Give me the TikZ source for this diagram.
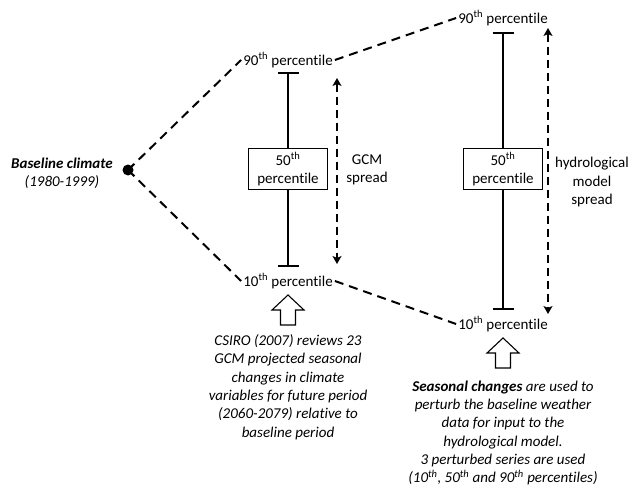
\documentclass[tikz,border=0pt]{standalone}
\usepackage{fontspec}
\setmainfont{Carlito}[Ligatures=NoCommon]
\usetikzlibrary{arrows.meta}

\begin{document}
\begin{tikzpicture}[
        x=1pt, y=-1pt,
        every node/.style={font=\fontsize{15}{18}\selectfont, align=center, inner sep=2pt},
        link/.style={line width=2pt, dash pattern=on 9pt off 6pt},
        spreadline/.style={line width=2pt, dash pattern=on 8pt off 5pt, {Stealth[length=8pt,width=9pt,inset=2pt]}-{Stealth[length=8pt,width=9pt,inset=2pt]}},
        whisker/.style={line width=2pt},
        midbox/.style={draw, line width=1pt, minimum width=79pt, minimum height=40pt, inner sep=1pt},
        hollow/.style={draw, line width=1.1pt, line join=miter},
        notetext/.style={font=\itshape\fontsize{15}{18.3}\selectfont}
      ]
      \useasboundingbox (0,0) rectangle (636,489);

      % baseline
      \fill (128,170) circle (5.5pt) coordinate (base);
      \node at (62,173) {\textbf{\textit{Baseline climate}}\\\textit{(1980-1999)}};

      % GCM projections
      \node (p90a) at (288,60) {90\textsuperscript{th} percentile};
      \node[midbox] (p50a) at (288,169) {50\textsuperscript{th}\\percentile};
      \node (p10a) at (288,281) {10\textsuperscript{th} percentile};
      \draw[whisker, {Bar[width=21pt]}-] (288,72) -- (p50a.north);
      \draw[whisker, -{Bar[width=21pt]}] (p50a.south) -- (288,267);
      \coordinate (gcmtop) at (337,78);
      \coordinate (gcmbot) at (337,264);
      \draw[spreadline] (gcmtop) -- (gcmbot);
      \node at (367,170) {GCM\\spread};

      % hydrological model
      \node (p90b) at (503,18) {90\textsuperscript{th} percentile};
      \node[midbox] (p50b) at (503,169) {50\textsuperscript{th}\\percentile};
      \node (p10b) at (503,324) {10\textsuperscript{th} percentile};
      \draw[whisker, {Bar[width=21pt]}-] (503,32) -- (p50b.north);
      \draw[whisker, -{Bar[width=21pt]}] (p50b.south) -- (503,310);
      \coordinate (hydtop) at (548,28);
      \coordinate (hydbot) at (548,314);
      \draw[spreadline] (hydtop) -- (hydbot);
      \node at (592,182) {hydrological\\model\\spread};

      \draw[link] (base) -- (p90a.west);
      \draw[link] (base) -- (p10a.west);
      \draw[link] (p90a.east) -- (p90b.west);
      \draw[link] (p10a.east) -- (p10b.west);

      % inputs
      \coordinate (upa) at (288,325);
      \coordinate (upb) at (503,368);
      \draw[hollow] (upa) ++(-7.5,0) -- ++(0,-15) -- ++(-8.5,0) -- ++(16,-15) -- ++(16,15) -- ++(-8.5,0) -- ++(0,15) -- cycle;
      \draw[hollow] (upb) ++(-7.5,0) -- ++(0,-15) -- ++(-8.5,0) -- ++(16,-15) -- ++(16,15) -- ++(-8.5,0) -- ++(0,15) -- cycle;
      \node[notetext] (notea) at (288,387) {CSIRO (2007) reviews 23\\GCM projected seasonal\\changes in climate\\variables for future period\\(2060-2079) relative to\\baseline period};
      \node[notetext] (noteb) at (503,433) {\textbf{Seasonal changes} are used to\\perturb the baseline weather\\data for input to the\\hydrological model.\\3 perturbed series are used\\(10\textsuperscript{th}, 50\textsuperscript{th} and 90\textsuperscript{th} percentiles)};

      \end{tikzpicture}
\end{document}
